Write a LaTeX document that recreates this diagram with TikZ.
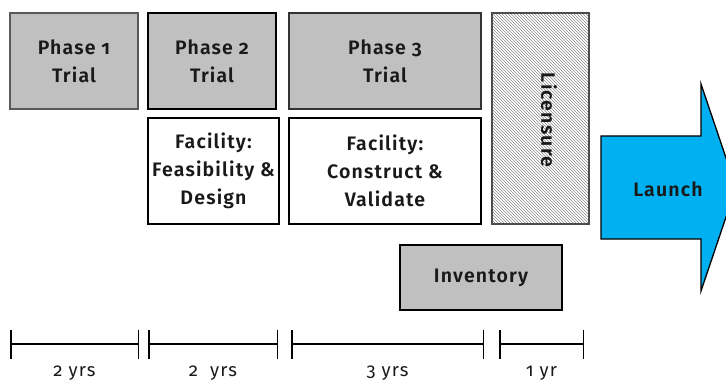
\documentclass[tikz,border=0pt]{standalone}
\usepackage{fontspec}
\setmainfont{Fira Sans}[Numbers=OldStyle,LetterSpace=6,BoldFont={Fira Sans SemiBold}]
\usetikzlibrary{positioning,patterns,arrows.meta}
\definecolor{boxgray}{HTML}{C0C0C0}
\definecolor{launchblue}{HTML}{00B0F0}

\begin{document}
\begin{tikzpicture}[
            x=1pt, y=-1pt,
            every node/.style={inner sep=0pt,outer sep=0pt,align=center,text=black!90,font=\fontsize{19.5}{28}\selectfont\bfseries},
            trial/.style={rectangle,draw=black!80,fill=boxgray,line width=1.6pt,minimum height=96pt},
            facility/.style={rectangle,draw=black,fill=white,line width=1.6pt,minimum height=106pt},
            yrspan/.style={{Bar[width=29pt]}-{Bar[width=29pt]},line width=1.5pt},
            yrlabel/.style={font=\fontsize{18.5}{22}\selectfont, below=22pt}
        ]
          \useasboundingbox (0,0) rectangle (726,385);
          \clip (0,0) rectangle (726,385);
          \node[trial,draw=black!65,line width=1.3pt,minimum width=128pt] (phase1) at (74,61) {Phase 1\\Trial};
          \node[trial,draw=black,minimum width=128pt] (phase2) at (212,61) {Phase 2\\Trial};
          \node[trial,minimum width=192pt] (phase3) at (385,61) {Phase 3\\Trial};
          \node[facility,minimum width=131pt] (fac2) at (213.5,171) {Facility:\\Feasibility \&\\Design};
          \node[facility,minimum width=192pt] (fac3) at (385,171) {Facility:\\Construct \&\\Validate};
          \node[rectangle,draw=black!70,line width=1.3pt,pattern=north west lines,pattern color=black!45,minimum width=97pt,minimum height=211pt] (lic) at (540.5,118.5) {};
          \node[rotate=-90] (licensure) at (549,120) {Licensure};
          \node[trial,draw=black,minimum width=162pt,minimum height=65pt] (inv) at (481,277.5) {Inventory};
          \draw[draw=black,line width=1.3pt,fill=launchblue] (601,136) -- (701,136) -- (701,84) -- (736,187.5) -- (701,291) -- (701,239) -- (601,239) -- cycle;
          \node (launch) at (668,189) {Launch};
          \coordinate (t0) at (10,344); \coordinate (t1) at (139,344);
          \coordinate (t2) at (148,344); \coordinate (t3) at (278,344);
          \coordinate (t4) at (291,344); \coordinate (t5) at (484,344);
          \coordinate (t6) at (499,344); \coordinate (t7) at (584,344);
          \draw[yrspan] (t0) -- node[yrlabel] (y1) {2 yrs} (t1);
          \draw[yrspan] (t2) -- node[yrlabel] (y2) {2\ \ yrs} (t3);
          \draw[yrspan] (t4) -- node[yrlabel] (y3) {3 yrs} (t5);
          \draw[yrspan] (t6) -- node[yrlabel] (y4) {1 yr} (t7);
        \end{tikzpicture}
\end{document}
